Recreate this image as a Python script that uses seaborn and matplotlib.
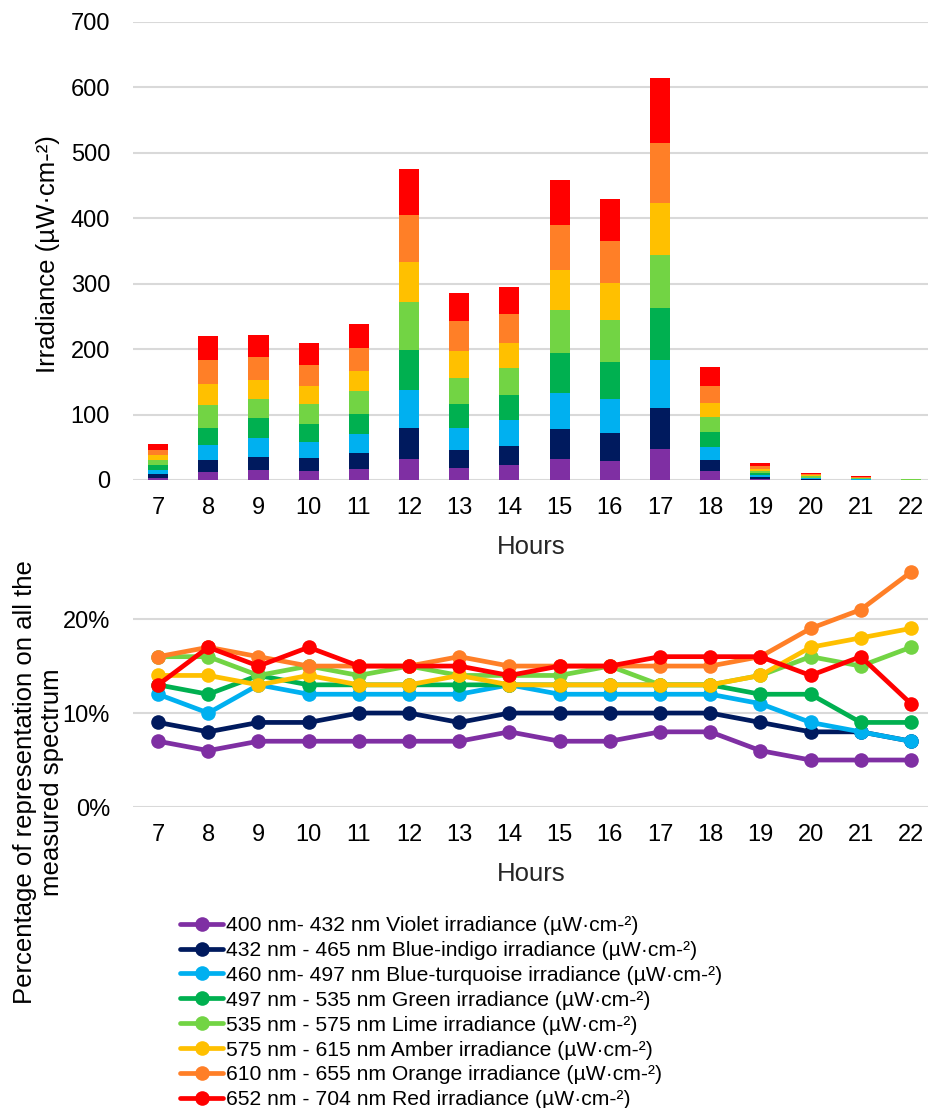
import numpy as np
import pandas as pd
import matplotlib
matplotlib.use("Agg")
import matplotlib.pyplot as plt
from matplotlib.ticker import PercentFormatter
import seaborn as sns

hours = [7, 8, 9, 10, 11, 12, 13, 14, 15, 16, 17, 18, 19, 20, 21, 22]

band_labels = [
    "400 nm- 432 nm Violet irradiance (µW·cm-²)",
    "432 nm - 465 nm Blue-indigo irradiance (µW·cm-²)",
    "460 nm- 497 nm Blue-turquoise irradiance (µW·cm-²)",
    "497 nm - 535 nm Green irradiance (µW·cm-²)",
    "535 nm - 575 nm Lime irradiance (µW·cm-²)",
    "575 nm - 615 nm Amber irradiance (µW·cm-²)",
    "610 nm - 655 nm Orange irradiance (µW·cm-²)",
    "652 nm - 704 nm Red irradiance (µW·cm-²)",
]
band_colors = ["#7F2FA3", "#001A5E", "#00B0F0", "#00B050",
               "#72D444", "#FFC000", "#FF7F27", "#FF0000"]

# irradiance per band (µW/cm2)
violet = [3.6, 12.7, 15.3, 14.2, 16.8, 32.1, 18.9, 23.0, 32.1, 29.1, 48.0, 13.3, 1.6, 0.56, 0.28, 0.10]
indigo = [6.1, 17.8, 20.4, 19.3, 24.4, 48.0, 26.5, 29.1, 46.4, 43.4, 61.7, 17.3, 2.4, 0.90, 0.45, 0.14]
turquoise = [6.1, 22.4, 28.5, 24.4, 29.5, 57.7, 34.2, 39.3, 55.1, 52.0, 73.5, 20.4, 2.9, 1.00, 0.45, 0.14]
green = [6.6, 27.0, 30.0, 27.0, 30.5, 61.2, 36.7, 37.8, 61.2, 55.6, 80.1, 22.4, 3.2, 1.35, 0.50, 0.18]
lime = [8.7, 34.6, 30.0, 31.0, 34.6, 72.4, 39.8, 41.8, 64.3, 64.3, 80.1, 22.4, 3.7, 1.80, 0.84, 0.34]
amber = [7.1, 31.6, 28.5, 28.5, 30.5, 61.2, 40.8, 37.8, 61.2, 56.1, 79.6, 22.4, 3.7, 1.90, 1.00, 0.38]
orange = [8.1, 36.6, 35.1, 31.0, 35.6, 71.9, 45.9, 44.9, 69.4, 64.3, 92.0, 25.5, 4.2, 2.10, 1.18, 0.50]
red = [8.7, 37.7, 33.1, 34.6, 36.1, 71.4, 42.9, 41.8, 69.4, 65.3, 99.0, 28.6, 4.2, 1.60, 0.90, 0.22]

# share of each band in the measured spectrum (%)
pct_violet = [7, 6, 7, 7, 7, 7, 7, 8, 7, 7, 8, 8, 6, 5, 5, 5]
pct_indigo = [9, 8, 9, 9, 10, 10, 9, 10, 10, 10, 10, 10, 9, 8, 8, 7]
pct_turquoise = [12, 10, 13, 12, 12, 12, 12, 13, 12, 12, 12, 12, 11, 9, 8, 7]
pct_green = [13, 12, 14, 13, 13, 13, 13, 13, 13, 13, 13, 13, 12, 12, 9, 9]
pct_lime = [16, 16, 14, 15, 14, 15, 14, 14, 14, 15, 13, 13, 14, 16, 15, 17]
pct_amber = [14, 14, 13, 14, 13, 13, 14, 13, 13, 13, 13, 13, 14, 17, 18, 19]
pct_orange = [16, 17, 16, 15, 15, 15, 16, 15, 15, 15, 15, 15, 16, 19, 21, 25]
pct_red = [13, 17, 15, 17, 15, 15, 15, 14, 15, 15, 16, 16, 16, 14, 16, 11]

irr = [violet, indigo, turquoise, green, lime, amber, orange, red]
pct = [pct_violet, pct_indigo, pct_turquoise, pct_green, pct_lime, pct_amber, pct_orange, pct_red]

sns.set_style("white")
plt.rcParams["font.family"] = ["Liberation Sans", "DejaVu Sans"]
plt.rcParams["text.color"] = "#000000"

TICK = 17
TITLE = 18.5

fig = plt.figure(figsize=(9.29, 11.08), dpi=100)
W, H = 929, 1108
ax1 = fig.add_axes([133 / W, 1 - 480 / H, 796 / W, 458 / H])
ax2 = fig.add_axes([133 / W, 1 - 807 / H, 796 / W, 249 / H])

# stacked bars
bottom = np.zeros(len(hours))
for vals, col in zip(irr, band_colors):
    sns.barplot(x=hours, y=vals, bottom=bottom, color=col, saturation=1,
                width=0.4, linewidth=0, ax=ax1)
    bottom += np.array(vals)

ax1.set_ylim(0, 700)
ax1.set_yticks(range(0, 701, 100))
ax1.set_xlim(-0.5, 15.36)
ax1.yaxis.grid(True, color="#D9D9D9", linewidth=1.5)
ax1.set_axisbelow(True)
ax1.set_xlabel("Hours", fontsize=TITLE, labelpad=12)
ax1.set_ylabel("")
ax1.tick_params(axis="both", labelsize=TICK, length=0, colors="#000000")
ax1.tick_params(axis="x", pad=12)
ax1.tick_params(axis="y", pad=16.5)
sns.despine(ax=ax1, left=True, bottom=True)

# percentage lines
for vals, col, lab in zip(pct, band_colors, band_labels):
    sns.lineplot(x=hours, y=vals, color=col, marker="o", markersize=10.5,
                 markeredgewidth=0, linewidth=3.4, label=lab, ax=ax2)

handles, labels = ax2.get_legend_handles_labels()
ax2.get_legend().remove()

ax2.set_ylim(0, 26.5)
ax2.set_yticks([0, 10, 20])
ax2.yaxis.set_major_formatter(PercentFormatter(100, decimals=0))
ax2.set_xlim(6.5, 22.36)
ax2.set_xticks(hours)
ax2.yaxis.grid(True, color="#D9D9D9", linewidth=1.5)
ax2.set_axisbelow(True)
ax2.set_xlabel("Hours", fontsize=TITLE, labelpad=12)
ax2.set_ylabel("")
ax2.tick_params(axis="both", labelsize=TICK, length=0, colors="#000000")
ax2.tick_params(axis="x", pad=12)
ax2.tick_params(axis="y", pad=16.5)
sns.despine(ax=ax2, left=True, bottom=True)

fig.text(48 / W, 1 - 254 / H, "Irradiance (µW·cm-²)", rotation=90,
         ha="center", va="center", fontsize=TITLE)
fig.text(38.5 / W, 1 - 782 / H, "Percentage of representation on all the\nmeasured spectrum",
         rotation=90, ha="center", va="center", fontsize=TITLE, linespacing=1.2)

fig.legend(handles, labels, loc="upper left", bbox_to_anchor=(180 / W, 1 - 916 / H),
           frameon=False, fontsize=15.2, handlelength=2.05, handletextpad=0.15,
           labelspacing=0.28, borderpad=0, borderaxespad=0)

fig.savefig("out.png", dpi=100)
